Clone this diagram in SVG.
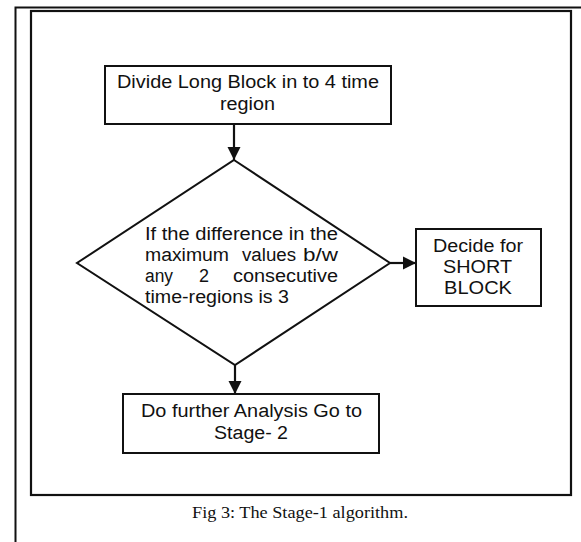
<svg xmlns="http://www.w3.org/2000/svg" width="581" height="542" viewBox="0 0 581 542">
  <style>
    .frame { fill: none; stroke: #111; }
    .node { fill: #fff; stroke: #111; stroke-width: 2; }
    .label { font-family: "Liberation Sans", Arial, sans-serif; font-size: 18px; fill: #111; }
    .mid { text-anchor: middle; }
    .caption { font-family: "Liberation Serif", "Times New Roman", serif; font-size: 16px; fill: #111; text-anchor: middle; }
    .edge { stroke: #111; stroke-width: 2.2; fill: none; }
  </style>
  <defs>
    <marker id="arrow" viewBox="0 0 10 10" refX="10" refY="5" markerWidth="6" markerHeight="6" markerUnits="strokeWidth" orient="auto">
      <path d="M0,0 L10,5 L0,10 Z" fill="#111"/>
    </marker>
  </defs>

  <rect width="581" height="542" fill="#fff"/>

  <!-- page frame -->
  <path class="frame" d="M15.5,542 V7.5 H581" stroke-width="2"/>
  <rect class="frame" x="31" y="11" width="540" height="484" stroke-width="2.2"/>

  <!-- connectors -->
  <g id="connectors">
    <line class="edge" x1="234" y1="124" x2="234" y2="160" marker-end="url(#arrow)"/>
    <line class="edge" x1="390" y1="263" x2="416" y2="263" marker-end="url(#arrow)"/>
    <line class="edge" x1="235" y1="365" x2="235" y2="394" marker-end="url(#arrow)"/>
  </g>

  <g id="divide">
    <rect class="node" x="105" y="66" width="286" height="58"/>
    <text class="label" x="117" y="88" textLength="262" lengthAdjust="spacingAndGlyphs">Divide Long Block in to 4 time</text>
    <text class="label" x="220" y="110" textLength="55" lengthAdjust="spacingAndGlyphs">region</text>
  </g>

  <g id="decision">
    <polygon class="node" stroke-width="1.6" points="234,160 390,263 235,365 77,263"/>
    <text class="label" x="145" y="240" textLength="193" lengthAdjust="spacingAndGlyphs">If the difference in the</text>
    <text class="label" x="145" y="261" textLength="84" lengthAdjust="spacingAndGlyphs">maximum</text>
    <text class="label" x="242" y="261" textLength="54" lengthAdjust="spacingAndGlyphs">values</text>
    <text class="label" x="303" y="261" textLength="35" lengthAdjust="spacingAndGlyphs">b/w</text>
    <text class="label" x="145" y="282" textLength="28" lengthAdjust="spacingAndGlyphs">any</text>
    <text class="label" x="199" y="282" textLength="10" lengthAdjust="spacingAndGlyphs">2</text>
    <text class="label" x="233" y="282" textLength="105" lengthAdjust="spacingAndGlyphs">consecutive</text>
    <text class="label" x="145" y="303" textLength="144" lengthAdjust="spacingAndGlyphs">time-regions is 3</text>
  </g>

  <g id="short-block">
    <rect class="node" x="416" y="229" width="125" height="77"/>
    <text class="label" x="433" y="252" textLength="90" lengthAdjust="spacingAndGlyphs">Decide for</text>
    <text class="label" x="443" y="273" textLength="69" lengthAdjust="spacingAndGlyphs">SHORT</text>
    <text class="label" x="444" y="294" textLength="68" lengthAdjust="spacingAndGlyphs">BLOCK</text>
  </g>

  <g id="stage-2">
    <rect class="node" x="123" y="394" width="256" height="59"/>
    <text class="label" x="141" y="417" textLength="221" lengthAdjust="spacingAndGlyphs">Do further Analysis Go to</text>
    <text class="label" x="214" y="439" textLength="74" lengthAdjust="spacingAndGlyphs">Stage- 2</text>
  </g>

  <text class="caption" x="300" y="518" textLength="216" lengthAdjust="spacingAndGlyphs">Fig 3: The Stage-1 algorithm.</text>
</svg>
